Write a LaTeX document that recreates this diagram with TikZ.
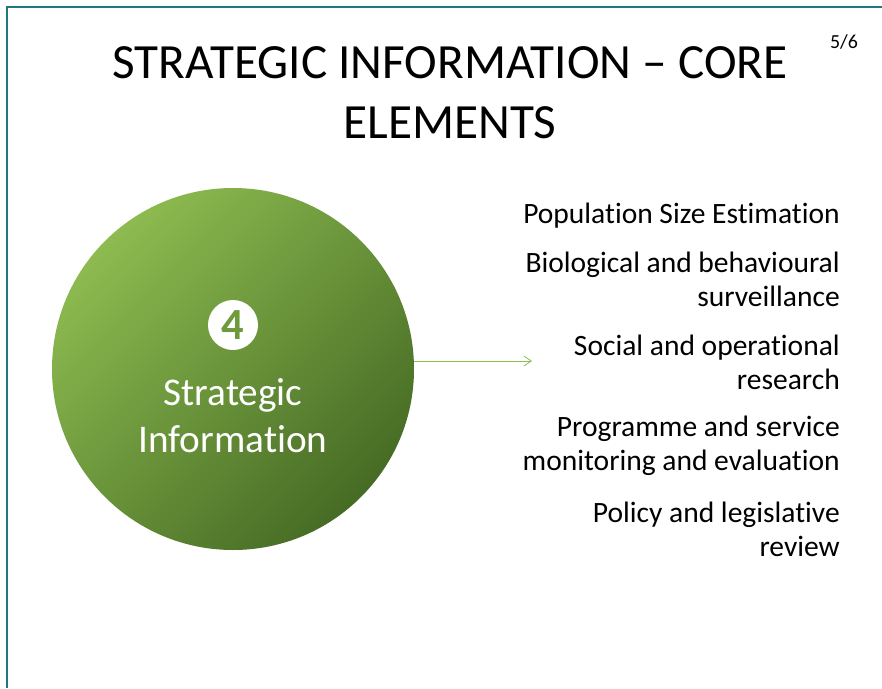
\documentclass[tikz,border=0pt]{standalone}
\usepackage{fontspec}
\setmainfont{Carlito}[Ligatures=NoCommon]
\usetikzlibrary{arrows.meta,positioning}
\definecolor{frame}{HTML}{1F7A80}
\definecolor{gtop}{HTML}{8DBB50}
\definecolor{gbot}{HTML}{466B24}
\definecolor{arrowgreen}{HTML}{8CBF50}
\definecolor{numgreen}{HTML}{6E9A3C}

\begin{document}
\begin{tikzpicture}[x=0.03cm, y=-0.03cm,
  title/.style={font=\fontsize{42}{51}\selectfont, align=center},
  item/.style={font=\fontsize{25.2}{29}\selectfont, align=right, anchor=east, inner sep=0pt},
  big/.style={circle, minimum size=362*0.03cm, inner sep=0pt, shading=axis,
              top color=gtop, bottom color=gbot, shading angle=45},
  badge/.style={circle, fill=white, minimum size=50*0.03cm, inner sep=0pt,
                font=\fontsize{38}{38}\selectfont\bfseries, text=numgreen}]
\useasboundingbox (0,0) rectangle (882,688);
% ---------------- frame
\draw[frame, line width=1pt] (7,688) -- (7,7) -- (882,7);
% ---------------- title
\node[title] (ttl) at (450,93) {STRATEGIC INFORMATION -- CORE\\ELEMENTS};
\node[font=\fontsize{17}{19}\selectfont] (page) at (844,42) {5/6};
% ---------------- circle
\node[big] (si) at (233,369) {};
\node[badge] (num) at (233,325) {4};
\node[font=\fontsize{33.5}{40}\selectfont, text=white, align=center] (lbl) at (233,416)
      {Strategic\\Information};
% ---------------- list
\node[item] (i1) at (840,216) {Population Size Estimation};
\node[item] (i2) at (840,279.5) {Biological and behavioural\\surveillance};
\node[item] (i3) at (840,362.5) {Social and operational\\research};
\node[item] (i4) at (840,446) {Programme and service\\monitoring and evaluation};
\node[item] (i5) at (840,529) {Policy and legislative\\review};
% ---------------- arrow
\coordinate (tip) at (532,361);
\draw[arrowgreen, line width=0.7pt, -{Straight Barb[length=2.2mm, width=3mm]}] (si.east |- tip) -- (tip);
\end{tikzpicture}
\end{document}
